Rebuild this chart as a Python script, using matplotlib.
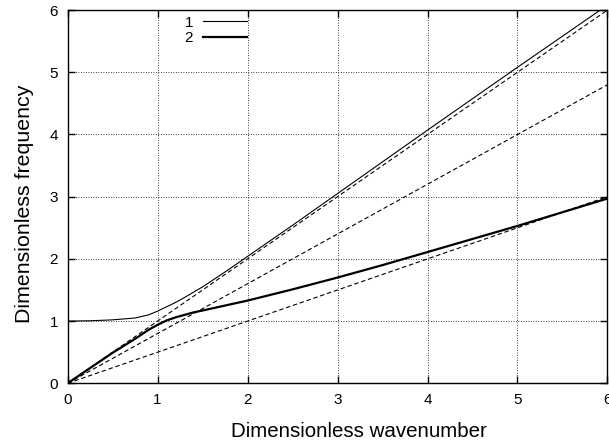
import matplotlib
matplotlib.use("Agg")
import matplotlib.pyplot as plt
import numpy as np

plt.rcParams['font.family'] = ['Liberation Sans', 'DejaVu Sans']

# Branch 1 (thin): upper branch
k1 = [0, 0.25, 0.5, 0.75, 0.9, 1.0, 1.1, 1.2, 1.3, 1.5, 1.75, 2.0, 2.5, 3.0, 4.0, 5.0, 5.92]
w1 = [1.0, 1.005, 1.02, 1.05, 1.10, 1.16, 1.23, 1.30, 1.38, 1.55, 1.79, 2.04, 2.54, 3.05, 4.07, 5.08, 6.0]

# Branch 2 (thick): lower branch
k2 = [0, 0.25, 0.5, 0.75, 0.9, 1.0, 1.1, 1.2, 1.3, 1.4, 1.5, 1.75, 2.0, 2.5, 3.0, 3.5, 4.0, 4.5, 5.0, 5.5, 6.0]
w2 = [0, 0.245, 0.49, 0.715, 0.86, 0.94, 1.01, 1.06, 1.10, 1.14, 1.17, 1.25, 1.33, 1.51, 1.70, 1.90, 2.11, 2.32, 2.53, 2.75, 2.97]

# Asymptotic dashed lines (slopes)
slopes = [1.0, 0.8, 0.5]
k_dash = [0, 6]

fig = plt.figure(figsize=(6.09, 4.47), dpi=100)
ax = fig.add_axes([0.111, 0.1425, 0.8865, 0.835])

for s in slopes:
    ax.plot(k_dash, [s * k for k in k_dash], color='black', lw=0.8, ls=(0, (4, 2.5)))

ax.plot(k1, w1, color='black', lw=0.8, label='1')
ax.plot(k2, w2, color='black', lw=1.6, label='2')

ax.set_xlim(0, 6)
ax.set_ylim(0, 6)
ax.set_xticks(range(7))
ax.set_yticks(range(7))
ax.tick_params(direction='in', top=True, right=True, length=5, width=1, labelsize=11, pad=7)
ax.grid(True, color='black', ls=(0, (1, 2)), lw=0.6)
for sp in ax.spines.values():
    sp.set_linewidth(1.0)

ax.set_xlabel('Dimensionless wavenumber', fontsize=14.8)
ax.set_ylabel('Dimensionless frequency', fontsize=15.4)
ax.xaxis.set_label_coords(0.54, -0.104)
ax.yaxis.set_label_coords(-0.063, 0.48)

ax.legend(loc='upper right', bbox_to_anchor=(0.333, 0.985), frameon=False, markerfirst=False,
          fontsize=11, handlelength=2.9, handletextpad=0.65, labelspacing=0.1,
          borderaxespad=0, borderpad=0)

fig.savefig('out.png', dpi=100)
